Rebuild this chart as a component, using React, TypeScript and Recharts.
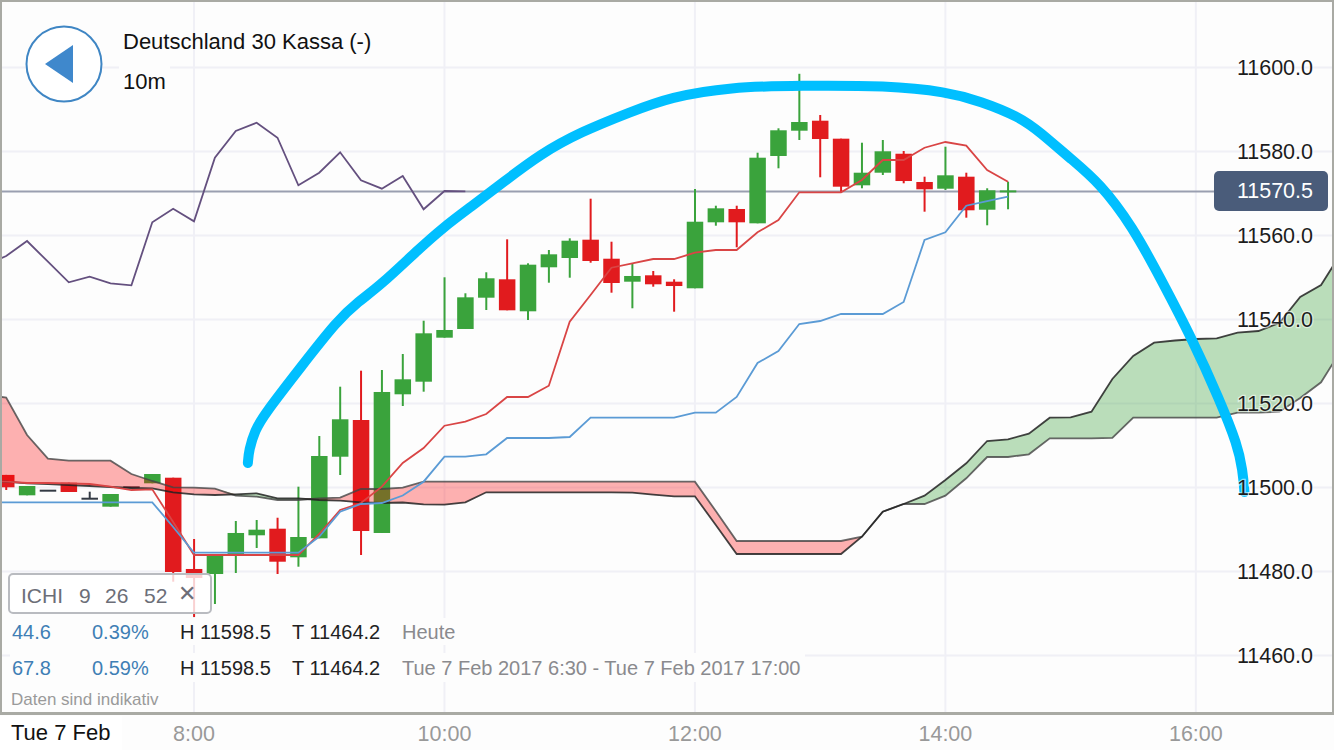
import React from "react";
import { ComposedChart, Bar, Line, Area, XAxis, YAxis, CartesianGrid } from "recharts";

// Ten-minute slots counted from 8:00 (slot 0). Candles start at slot -9.
const candleStart = -9;
const opens = [11503.0,11498.14,11499.24,11501.14,11497.33,11495.43,11500.05,11501.0,11502.33,11480.6,11479.4,11483.93,11488.62,11490.19,11483.38,11487.9,11507.33,11516.07,11489.17,11522.19,11525.19,11535.67,11537.74,11545.19,11549.57,11541.95,11552.43,11554.64,11559.0,11554.47,11549.0,11550.52,11549.0,11547.43,11563.14,11566.31,11562.9,11578.93,11584.95,11587.33,11583.05,11571.95,11574.95,11579.47,11572.74,11571.14,11574.0,11566.14,11570.5];
const closes = [11500.05,11500.36,11499.24,11498.93,11497.33,11498.45,11500.05,11503.21,11479.88,11478.45,11483.93,11489.17,11489.95,11482.33,11488.21,11507.5,11516.24,11489.64,11522.74,11525.76,11536.71,11537.5,11545.28,11549.81,11542.19,11553.05,11555.52,11558.76,11553.93,11548.69,11550.36,11548.38,11547.97,11563.28,11566.47,11563.14,11578.52,11585.05,11587.02,11582.97,11571.62,11574.95,11580.05,11572.97,11571.0,11574.33,11566.0,11570.76,11570.5];
const highs = [11503.0,11500.36,11499.24,11501.14,11499.0,11498.45,11500.05,11503.21,11502.33,11487.74,11483.93,11492.02,11492.26,11492.8,11500.19,11512.26,11524.0,11527.81,11527.97,11531.78,11539.71,11550.05,11546.24,11551.24,11559.09,11553.38,11556.55,11559.33,11568.76,11558.52,11553.21,11551.55,11549.57,11571.07,11567.09,11567.09,11579.71,11585.52,11598.5,11588.69,11583.05,11582.09,11582.74,11580.12,11574.0,11581.14,11574.95,11571.24,11572.81];
const lows = [11499.4,11498.14,11499.24,11498.93,11497.33,11495.43,11500.05,11501.0,11477.57,11469.17,11472.26,11479.64,11485.6,11479.4,11481.14,11487.9,11502.97,11483.93,11489.17,11519.4,11522.81,11535.67,11537.74,11542.26,11542.19,11539.88,11548.76,11549.95,11553.52,11546.38,11542.67,11547.81,11541.86,11547.43,11562.33,11557.19,11562.9,11576.0,11582.74,11573.86,11570.28,11571.24,11574.4,11572.43,11565.67,11570.83,11564.24,11562.43,11566.24];

// Indicator lines start at slot -10.
const lineStart = -10;
const chikou = [11552.97,11555.12,11558.69,11553.76,11548.86,11550.19,11548.62,11548.14,11563.14,11566.38,11563.38,11578.52,11584.88,11586.86,11583.28,11571.95,11574.95,11579.81,11573.14,11571.14,11574.17,11566.24,11570.59,11570.5];
const tenkan = [11501.55,11501.38,11501.07,11501.07,11501.0,11500.83,11500.19,11499.4,11499.57,11491.78,11483.93,11483.93,11483.93,11483.93,11483.93,11483.93,11488.93,11494.64,11496.31,11500.19,11505.83,11509.4,11514.71,11515.67,11517.5,11521.55,11521.55,11524.24,11539.47,11545.83,11552.33,11553.38,11554.4,11554.4,11555.9,11556.55,11556.55,11560.76,11563.69,11570.28,11570.28,11570.28,11573.21,11577.97,11577.97,11580.9,11582.26,11581.38,11575.59,11572.81];
const kijun = [11496.47,11496.47,11496.47,11496.47,11496.47,11496.47,11496.47,11496.47,11496.47,11490.59,11484.47,11484.47,11484.47,11484.47,11484.47,11484.47,11488.28,11494.24,11496.07,11496.31,11498.09,11501.38,11507.33,11507.33,11507.9,11511.78,11511.78,11511.78,11512.02,11516.62,11516.62,11516.62,11516.62,11516.62,11517.81,11517.81,11521.55,11529.64,11532.5,11538.93,11539.64,11541.31,11541.31,11541.31,11544.17,11558.93,11560.76,11567.09,11568.21,11569.24];
const spanA = [11501.55,11501.38,11501.0,11500.83,11500.59,11500.36,11500.12,11499.88,11499.81,11498.86,11498.38,11498.21,11498.38,11498.62,11497.43,11497.43,11497.02,11496.86,11496.47,11496.31,11496.43,11496.0,11495.9,11496.47,11498.86,11498.86,11498.86,11498.86,11498.86,11498.86,11498.86,11498.76,11498.28,11497.9,11497.9,11491.07,11484.17,11484.17,11484.17,11484.17,11484.17,11484.17,11488.28,11494.24,11496.07,11498.05,11501.78,11505.76,11511.07,11511.47,11512.81,11516.62,11516.71,11518.05,11525.83,11531.31,11534.47,11535.0,11535.36,11535.52,11536.86,11537.26,11539.17,11545.36,11548.21,11556.07];
const spanB = [11522.02,11521.43,11512.5,11506.86,11506.38,11506.38,11506.38,11503.21,11501.55,11500.05,11499.95,11499.71,11498.05,11497.81,11497.02,11497.02,11497.43,11497.57,11499.64,11499.64,11499.95,11501.38,11501.38,11501.38,11501.38,11501.38,11501.38,11501.38,11501.38,11501.38,11501.38,11501.38,11501.38,11501.38,11501.38,11494.4,11487.26,11487.26,11487.26,11487.26,11487.26,11487.26,11488.28,11494.24,11496.07,11496.07,11498.05,11502.19,11507.26,11507.26,11507.9,11511.71,11511.71,11511.71,11511.79,11516.62,11516.62,11516.62,11516.62,11516.62,11517.81,11517.81,11518.05,11521.31,11525.05,11532.97];

// The hand-drawn cyan arc, as slot / price pairs.
const arcSlots = [2.58,2.63,2.92,3.35,5.12,6.89,7.85,8.95,10.72,11.96,13.25,14.83,16.6,18.52,20.91,22.82,25.69,29.04,33.21,36.08,37.66,39.57,40.53,41.96,43.4,44.98,46.27,47.85,49.14,50.0,50.24,50.33];
const arcPrices = [11505.83,11508.93,11513.6,11517.3,11528.69,11539.88,11544.17,11548.21,11556.55,11562.02,11566.78,11572.74,11579.4,11584.64,11589.4,11592.97,11595.36,11595.71,11595.71,11594.17,11592.02,11588.21,11584.64,11578.45,11572.5,11562.02,11550.12,11535.12,11520.83,11510.12,11504.17,11498.93];

const priceTicks = [11460,11480,11500,11520,11540,11560,11580,11600];
const timeTicks = [0,12,24,36,48];
const timeLabels = ["8:00","10:00","12:00","14:00","16:00"];
const lastPrice = 11570.5;
const titleText = "Deutschland 30 Kassa (-)";
const intervalText = "10m";
const dateText = "Tue 7 Feb";
const rangeToday = { change: "44.6", pct: "0.39%", high: "H 11598.5", low: "T 11464.2", label: "Heute" };
const rangeAll = { change: "67.8", pct: "0.59%", high: "H 11598.5", low: "T 11464.2", label: "Tue 7 Feb 2017 6:30 - Tue 7 Feb 2017 17:00" };
const indicatorParts = ["ICHI","9","26","52"];
const disclaimer = "Daten sind indikativ";

const rows = spanA.map((_, i) => {
  const t = i + lineStart;
  const c = t - candleStart;
  const has = c >= 0 && c < opens.length;
  const a = spanA[i];
  const b = spanB[i];
  const top = Math.max(a, b);
  return {
    t,
    chikou: chikou[i],
    tenkan: tenkan[i],
    kijun: kijun[i],
    spanA: a,
    spanB: b,
    last: lastPrice,
    redCloud: [a, top],
    greenCloud: [b, top],
    open: has ? opens[c] : undefined,
    close: has ? closes[c] : undefined,
    high: has ? highs[c] : undefined,
    low: has ? lows[c] : undefined,
    range: has ? [lows[c], highs[c]] : undefined,
  };
});
const arcPoints = arcSlots.map((t, i) => ({ t, price: arcPrices[i] }));

const FONT = '"Liberation Sans", Arial, sans-serif';
const GREEN = "#3AA33C";
const RED = "#E11B1E";
const BODY_W = 16.5;
const X_DOMAIN = [-9.296, 54.62];
const Y_DOMAIN = [11446.07, 11616.07];
const overlayStyle: React.CSSProperties = { position: "absolute", left: 0, top: 0 };

function Candle(props: any) {
  const { x, y, width, height, payload } = props;
  if (!payload || payload.high == null) return null;
  const top = Math.min(y, y + height);
  const h = Math.abs(height);
  const span = payload.high - payload.low;
  const px = span > 0 ? h / span : 0;
  const at = (v: number) => top + (payload.high - v) * px;
  const cx = x + width / 2;
  const flat = payload.open === payload.close;
  const color = flat && payload.t < 0 ? "#333A44" : payload.close >= payload.open ? GREEN : RED;
  const bt = at(Math.max(payload.open, payload.close));
  const bb = at(Math.min(payload.open, payload.close));
  return (
    <g>
      <line x1={cx} x2={cx} y1={top} y2={top + h} stroke={color} strokeWidth={2} />
      <rect x={cx - BODY_W / 2} y={flat ? bt - 1 : bt} width={BODY_W} height={Math.max(bb - bt, 2)} fill={color} />
    </g>
  );
}

function PriceTick(props: any) {
  const { x, y, payload } = props;
  return (
    <text x={x} y={y} dy={7.5} textAnchor="end" fontFamily={FONT} fontSize={21.5} fill="#1c1c1c"
      stroke="#fff" strokeOpacity={0.55} strokeWidth={2.5} style={{ paintOrder: "stroke" }}>
      {payload.value.toFixed(1)}
    </text>
  );
}

function Txt({ x, y, size, color, bold, children }: any) {
  return (
    <span style={{ position: "absolute", left: x, top: y, transform: "translateY(-50%)", fontSize: size, color, fontWeight: bold ? 700 : 400, whiteSpace: "nowrap", lineHeight: 1 }}>
      {children}
    </span>
  );
}

function Plate({ x, y, w, h, bg }: any) {
  return <div style={{ position: "absolute", left: x, top: y, width: w, height: h, background: bg }} />;
}

export default function App() {
  const hiddenAxes = [
    <XAxis key="x" dataKey="t" type="number" domain={X_DOMAIN} allowDataOverflow hide />,
    <YAxis key="y" type="number" domain={Y_DOMAIN} allowDataOverflow hide />,
  ];
  return (
    <div style={{ position: "absolute", left: 0, top: 0, width: 1334, height: 750, overflow: "hidden", background: "#FDFDFD", fontFamily: FONT }}>
      {/* grid, time axis, last price, candles */}
      <ComposedChart width={1334} height={750} data={rows} margin={{ top: 0, right: 0, bottom: 0, left: 0 }} style={overlayStyle}>
        <CartesianGrid stroke="#F0F0F6" strokeWidth={2} horizontalValues={priceTicks} />
        <XAxis dataKey="t" type="number" domain={X_DOMAIN} allowDataOverflow ticks={timeTicks}
          tickFormatter={(v: number) => timeLabels[timeTicks.indexOf(v)]} height={36} axisLine={false} tickLine={false}
          interval={0} tickMargin={6} tick={{ fontFamily: FONT, fontSize: 21.5, fill: "#999999" }} />
        <YAxis type="number" domain={Y_DOMAIN} allowDataOverflow hide ticks={priceTicks} />
        <Line dataKey="last" type="linear" stroke="#9A9FB0" strokeWidth={2} dot={false} activeDot={false} isAnimationActive={false} zIndex={250} />
        <Bar dataKey="range" barSize={17} isAnimationActive={false} shape={<Candle />} zIndex={300} />
      </ComposedChart>

      {/* Ichimoku cloud and lines, above the candles */}
      <ComposedChart width={1334} height={750} data={rows} margin={{ top: 0, right: 0, bottom: 36, left: 0 }} style={overlayStyle}>
        {hiddenAxes}
        <Area dataKey="redCloud" type="linear" fill="rgb(255,0,0)" fillOpacity={0.3} stroke="none" dot={false} activeDot={false} isAnimationActive={false} />
        <Area dataKey="greenCloud" type="linear" fill="rgb(32,148,32)" fillOpacity={0.3} stroke="none" dot={false} activeDot={false} isAnimationActive={false} />
        <Line dataKey="spanB" type="linear" stroke="#444" strokeOpacity={0.8} strokeWidth={1.8} dot={false} activeDot={false} isAnimationActive={false} />
        <Line dataKey="spanA" type="linear" stroke="#222" strokeOpacity={0.85} strokeWidth={1.8} dot={false} activeDot={false} isAnimationActive={false} />
        <Line dataKey="tenkan" type="linear" stroke="#D94545" strokeWidth={1.8} dot={false} activeDot={false} isAnimationActive={false} />
        <Line dataKey="kijun" type="linear" stroke="#5B9BD5" strokeWidth={1.8} dot={false} activeDot={false} isAnimationActive={false} />
        <Line dataKey="chikou" type="linear" stroke="#64507F" strokeWidth={1.8} dot={false} activeDot={false} isAnimationActive={false} />
      </ComposedChart>

      {/* price labels with the hand-drawn arc on top */}
      <ComposedChart width={1334} height={750} data={rows} margin={{ top: 0, right: 0, bottom: 36, left: 0 }} style={overlayStyle}>
        <XAxis dataKey="t" type="number" domain={X_DOMAIN} allowDataOverflow hide />
        <YAxis type="number" orientation="right" mirror domain={Y_DOMAIN} allowDataOverflow ticks={priceTicks}
          axisLine={false} tickLine={false} tickSize={0} tickMargin={21} interval={0} tick={<PriceTick />} />
        <Line data={arcPoints} dataKey="price" type="basis" stroke="#00BFFF" strokeWidth={10} strokeLinecap="round" strokeLinejoin="round" dot={false} activeDot={false} isAnimationActive={false} />
      </ComposedChart>

      {/* frame */}
      <div style={{ position: "absolute", left: 0, top: 0, width: 1334, height: 715, boxSizing: "border-box", borderLeft: "2px solid #A9AAA4", borderTop: "2px solid #A9AAA4", borderRight: "2px solid #A9AAA4", borderBottom: "3px solid #A9AAA4" }} />

      {/* back button */}
      <svg width={80} height={80} style={{ position: "absolute", left: 24, top: 24 }}>
        <circle cx={40} cy={40} r={37.5} fill="#FFFFFF" stroke="#3F86C4" strokeWidth={2} />
        <polygon points="21,40 49,21 49,59" fill="#3F88CC" />
      </svg>

      <Txt x={123} y={42} size={22} color="#111">{titleText}</Txt>
      <Plate x={119} y={66} w={51} h={4} bg="#FDFDFD" />
      <Txt x={123} y={82} size={22} color="#111">{intervalText}</Txt>

      {/* last price flag */}
      <div style={{ position: "absolute", left: 1214, top: 171, width: 114, height: 40, borderRadius: 5, background: "#4A5C7A", color: "#fff", fontSize: 21.5, lineHeight: "40px", textAlign: "right", paddingRight: 15, boxSizing: "border-box" }}>
        {lastPrice.toFixed(1)}
      </div>
      <Plate x={1328} y={180} w={4} h={22} bg="#FDFDFD" />

      {/* indicator chip */}
      <div style={{ position: "absolute", left: 8, top: 573, width: 204, height: 41, boxSizing: "border-box", border: "2px solid #B9BBC0", borderRadius: 5, background: "rgba(255,255,255,0.8)" }} />
      <Txt x={21} y={595} size={21} color="#6C6E78">{indicatorParts[0]}</Txt>
      <Txt x={79} y={595} size={21} color="#6C6E78">{indicatorParts[1]}</Txt>
      <Txt x={105} y={595} size={21} color="#6C6E78">{indicatorParts[2]}</Txt>
      <Txt x={144} y={595} size={21} color="#6C6E78">{indicatorParts[3]}</Txt>
      <span style={{ position: "absolute", left: 178, top: 594, transform: "translateY(-50%)", fontFamily: '"DejaVu Sans"', fontSize: 22, fontWeight: 700, color: "#6C6E78", lineHeight: 1 }}>✕</span>

      {/* statistics */}
      <Plate x={10} y={618} w={448} h={27} bg="#FDFDFD" />
      <Plate x={10} y={653} w={795} h={29} bg="#FDFDFD" />
      <Txt x={12} y={632} size={20} color="#3F7FB5">{rangeToday.change}</Txt>
      <Txt x={92} y={632} size={20} color="#3F7FB5">{rangeToday.pct}</Txt>
      <Txt x={180} y={632} size={20} color="#222">{rangeToday.high}</Txt>
      <Txt x={292} y={632} size={20} color="#222">{rangeToday.low}</Txt>
      <Txt x={402} y={632} size={20} color="#8A8A8E">{rangeToday.label}</Txt>
      <Txt x={12} y={668} size={20} color="#3F7FB5">{rangeAll.change}</Txt>
      <Txt x={92} y={668} size={20} color="#3F7FB5">{rangeAll.pct}</Txt>
      <Txt x={180} y={668} size={20} color="#222">{rangeAll.high}</Txt>
      <Txt x={292} y={668} size={20} color="#222">{rangeAll.low}</Txt>
      <Txt x={402} y={668} size={20} color="#8A8A8E">{rangeAll.label}</Txt>
      <Txt x={11} y={699} size={17} color="#9A9A9A">{disclaimer}</Txt>

      {/* date stamp */}
      <Plate x={0} y={716} w={122} h={34} bg="#FFFFFF" />
      <Txt x={11} y={733} size={22} color="#111">{dateText}</Txt>
    </div>
  );
}
